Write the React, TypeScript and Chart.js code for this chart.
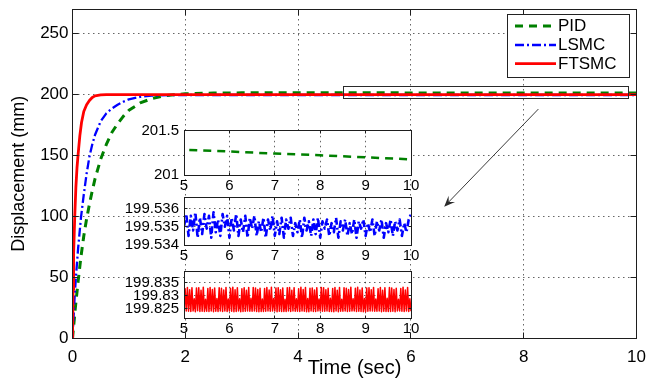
import React, { useEffect, useRef } from "react";
import { Chart, registerables } from "chart.js";

Chart.register(...registerables);

const FONT = "'Liberation Sans', Arial, Helvetica, sans-serif";
const INK = "#000000";
const FRAME = "#1e1e1e";
const GRID = "rgba(0,0,0,0.6)";

// ---------------- data ----------------
const seriesLabels = ["PID", "LSMC", "FTSMC"];
const seriesColors = ["#008000", "#0000ff", "#ff0000"];

const pidTime = [0, 0.05, 0.1, 0.15, 0.2, 0.25, 0.3, 0.35, 0.4, 0.45, 0.5, 0.6, 0.7, 0.8, 0.9, 1.0, 1.2, 1.4, 1.6, 1.8, 2.0, 2.5, 3, 3.5, 4, 4.5, 5, 6, 7, 8, 9, 10];
const pidDisp = [0, 25, 47, 67, 84, 98, 110, 121, 131, 139, 147, 159, 169, 176, 182, 187, 193, 196.5, 198.6, 199.8, 200.5, 201.1, 201.3, 201.33, 201.32, 201.3, 201.287, 201.267, 201.244, 201.225, 201.202, 201.179];

const lsmcRiseTime = [0, 0.02, 0.04, 0.06, 0.1, 0.15, 0.2, 0.25, 0.3, 0.35, 0.4, 0.5, 0.6, 0.7, 0.8, 0.9, 1.0, 1.2, 1.4, 1.7, 2.0, 2.5, 3, 4];
const lsmcRiseDisp = [0, 18, 36, 50, 74, 99, 118, 135, 149, 159, 167, 178, 184.5, 188.5, 191.5, 194, 196, 198, 199, 199.45, 199.52, 199.534, 199.535, 199.535];

const ftsmcRiseTime = [0, 0.01, 0.02, 0.04, 0.06, 0.08, 0.1, 0.13, 0.16, 0.2, 0.25, 0.3, 0.35, 0.4, 0.5, 0.6, 0.8, 1, 2, 3, 4];
const ftsmcRiseDisp = [0, 40, 70, 100, 124, 140, 151, 166, 177, 186, 191.5, 195, 197.5, 198.8, 199.6, 199.8, 199.826, 199.828, 199.828, 199.828, 199.828];

// steady-state samples from t = 5 s to t = 10 s
const steadyStart = 5;
const lsmcStep = 0.05;
const lsmcSteadyDisp = [
  199.5350, 199.5357, 199.5345, 199.5356, 199.5348, 199.5358, 199.5344, 199.5355, 199.5346, 199.5357,
  199.5349, 199.5356, 199.5344, 199.5358, 199.5347, 199.5354, 199.5345, 199.5357, 199.5350, 199.5356,
  199.5344, 199.5355, 199.5348, 199.5357, 199.5345, 199.5354, 199.5347, 199.5356, 199.5344, 199.5355,
  199.5349, 199.5356, 199.5345, 199.5353, 199.5347, 199.5355, 199.5344, 199.5354, 199.5348, 199.5356,
  199.5345, 199.5353, 199.5346, 199.5355, 199.5344, 199.5354, 199.5349, 199.5355, 199.5345, 199.5352,
  199.5347, 199.5354, 199.5344, 199.5355, 199.5348, 199.5353, 199.5345, 199.5354, 199.5346, 199.5355,
  199.5344, 199.5353, 199.5349, 199.5354, 199.5345, 199.5352, 199.5347, 199.5355, 199.5344, 199.5353,
  199.5348, 199.5354, 199.5345, 199.5352, 199.5346, 199.5354, 199.5344, 199.5353, 199.5349, 199.5354,
  199.5345, 199.5352, 199.5347, 199.5354, 199.5345, 199.5353, 199.5348, 199.5354, 199.5344, 199.5352,
  199.5347, 199.5354, 199.5345, 199.5353, 199.5348, 199.5354, 199.5345, 199.5352, 199.5347, 199.5354,
  199.5357,
];

const ftsmcStep = 0.025;
const ftsmcSteadyDisp = [
  199.8238, 199.8326, 199.8240, 199.8331, 199.8239, 199.8322, 199.8238, 199.8330, 199.8240, 199.8287,
  199.8237, 199.8329, 199.8241, 199.8330, 199.8238, 199.8320, 199.8239, 199.8332, 199.8238, 199.8285,
  199.8239, 199.8327, 199.8238, 199.8331, 199.8240, 199.8323, 199.8237, 199.8329, 199.8239, 199.8288,
  199.8238, 199.8330, 199.8240, 199.8328, 199.8238, 199.8321, 199.8240, 199.8331, 199.8238, 199.8286,
  199.8240, 199.8328, 199.8239, 199.8332, 199.8237, 199.8322, 199.8238, 199.8330, 199.8240, 199.8287,
  199.8237, 199.8326, 199.8238, 199.8330, 199.8239, 199.8320, 199.8240, 199.8331, 199.8239, 199.8289,
  199.8239, 199.8331, 199.8240, 199.8329, 199.8238, 199.8323, 199.8237, 199.8328, 199.8238, 199.8286,
  199.8238, 199.8327, 199.8239, 199.8331, 199.8240, 199.8321, 199.8239, 199.8332, 199.8240, 199.8288,
  199.8240, 199.8329, 199.8237, 199.8330, 199.8239, 199.8322, 199.8238, 199.8329, 199.8238, 199.8285,
  199.8238, 199.8330, 199.8240, 199.8331, 199.8238, 199.8320, 199.8240, 199.8330, 199.8239, 199.8287,
  199.8239, 199.8326, 199.8238, 199.8332, 199.8240, 199.8323, 199.8239, 199.8331, 199.8237, 199.8288,
  199.8237, 199.8328, 199.8240, 199.8329, 199.8238, 199.8321, 199.8238, 199.8330, 199.8240, 199.8286,
  199.8240, 199.8331, 199.8239, 199.8330, 199.8239, 199.8322, 199.8240, 199.8328, 199.8238, 199.8289,
  199.8238, 199.8327, 199.8237, 199.8331, 199.8240, 199.8320, 199.8237, 199.8331, 199.8239, 199.8285,
  199.8239, 199.8330, 199.8240, 199.8328, 199.8238, 199.8323, 199.8239, 199.8332, 199.8240, 199.8287,
  199.8240, 199.8328, 199.8238, 199.8332, 199.8239, 199.8321, 199.8238, 199.8329, 199.8237, 199.8288,
  199.8237, 199.8329, 199.8239, 199.8330, 199.8240, 199.8322, 199.8240, 199.8331, 199.8239, 199.8286,
  199.8239, 199.8326, 199.8240, 199.8331, 199.8237, 199.8320, 199.8239, 199.8330, 199.8238, 199.8289,
  199.8238, 199.8331, 199.8238, 199.8329, 199.8239, 199.8323, 199.8237, 199.8328, 199.8240, 199.8285,
  199.8240, 199.8327, 199.8239, 199.8332, 199.8238, 199.8321, 199.8240, 199.8331, 199.8238, 199.8287,
  199.8239,
];

// axes / ticks
const mainXTicks = [0, 2, 4, 6, 8, 10];
const mainYTicks = [0, 50, 100, 150, 200, 250];
const mainYRange = [0, 270];
const insetXRange = [5, 10];
const insetXTicks = [5, 6, 7, 8, 9, 10];
const pidInsetRange = [201, 201.5];
const pidInsetTicks = [201, 201.5];
const lsmcInsetRange = [199.534, 199.5366];
const lsmcInsetTicks = [199.534, 199.535, 199.536];
const ftsmcInsetRange = [199.8212, 199.8391];
const ftsmcInsetTicks = [199.825, 199.83, 199.835];

// zoom marker (data coordinates of the main axes)
const zoomBoxT = [4.8, 9.85];
const zoomBoxY = [197.3, 207.1];
const arrowFrom = [8.26, 188];
const arrowTo = [6.59, 108];

// ---------------- helpers ----------------
const pairs = (ts: number[], ys: number[]) => ts.map((t, i) => ({ x: t, y: ys[i] }));
const sampled = (t0: number, dt: number, ys: number[]) =>
  ys.map((y, i) => ({ x: Math.round((t0 + i * dt) * 10000) / 10000, y }));

const seriesPoints = [
  pairs(pidTime, pidDisp),
  [...pairs(lsmcRiseTime, lsmcRiseDisp), ...sampled(steadyStart, lsmcStep, lsmcSteadyDisp)],
  [...pairs(ftsmcRiseTime, ftsmcRiseDisp), ...sampled(steadyStart, ftsmcStep, ftsmcSteadyDisp)],
];

const mainStyles = [
  { borderDash: [8, 6], borderWidth: 3 },
  { borderDash: [9, 3, 2, 3], borderWidth: 2.3 },
  { borderDash: [], borderWidth: 2.8 },
];
const insetStyles = [
  { borderDash: [8, 6], borderWidth: 2.5 },
  { borderDash: [7, 3, 2, 3], borderWidth: 2.6 },
  { borderDash: [], borderWidth: 1.5 },
];

const crisp = (v: number) => Math.round(v) + 0.5;

function drawFrameAndTicks(chart: any, tickLen: number) {
  const { ctx, chartArea: a, scales } = chart;
  const L = crisp(a.left - 0.5), R = crisp(a.right - 0.5), T = crisp(a.top - 0.5), B = crisp(a.bottom - 0.5);
  ctx.save();
  ctx.setLineDash([]);
  ctx.strokeStyle = FRAME;
  ctx.lineWidth = 1;
  ctx.strokeRect(L, T, R - L, B - T);
  ctx.beginPath();
  for (const t of scales.x.ticks) {
    const px = crisp(scales.x.getPixelForValue(t.value) - 0.5);
    ctx.moveTo(px, B); ctx.lineTo(px, B - tickLen);
    ctx.moveTo(px, T); ctx.lineTo(px, T + tickLen);
  }
  for (const t of scales.y.ticks) {
    const py = crisp(scales.y.getPixelForValue(t.value) - 0.5);
    ctx.moveTo(L, py); ctx.lineTo(L + tickLen, py);
    ctx.moveTo(R, py); ctx.lineTo(R - tickLen, py);
  }
  ctx.stroke();
  ctx.restore();
}

const mainDecor = {
  id: "mainDecor",
  afterDraw(chart: any) {
    drawFrameAndTicks(chart, 6);
    const { ctx, scales } = chart;
    const x = scales.x, y = scales.y;
    ctx.save();
    // zoom rectangle
    ctx.strokeStyle = "#2a2a2a";
    ctx.lineWidth = 1;
    ctx.setLineDash([]);
    const bx0 = crisp(x.getPixelForValue(zoomBoxT[0]));
    const bx1 = crisp(x.getPixelForValue(zoomBoxT[1]));
    const by0 = crisp(y.getPixelForValue(zoomBoxY[1]));
    const by1 = crisp(y.getPixelForValue(zoomBoxY[0]));
    ctx.strokeRect(bx0, by0, bx1 - bx0, by1 - by0);
    // arrow
    const ax0 = x.getPixelForValue(arrowFrom[0]), ay0 = y.getPixelForValue(arrowFrom[1]);
    const ax1 = x.getPixelForValue(arrowTo[0]), ay1 = y.getPixelForValue(arrowTo[1]);
    const ang = Math.atan2(ay1 - ay0, ax1 - ax0);
    ctx.strokeStyle = "#3a3a3a";
    ctx.beginPath();
    ctx.moveTo(ax0, ay0);
    ctx.lineTo(ax1 - 6 * Math.cos(ang), ay1 - 6 * Math.sin(ang));
    ctx.stroke();
    const hl = 11, hw = 4.5;
    const bxp = ax1 - hl * Math.cos(ang), byp = ay1 - hl * Math.sin(ang);
    ctx.fillStyle = "#2a2a2a";
    ctx.beginPath();
    ctx.moveTo(ax1, ay1);
    ctx.lineTo(bxp + hw * Math.sin(ang), byp - hw * Math.cos(ang));
    ctx.lineTo(ax1 - 0.6 * hl * Math.cos(ang), ay1 - 0.6 * hl * Math.sin(ang));
    ctx.lineTo(bxp - hw * Math.sin(ang), byp + hw * Math.cos(ang));
    ctx.closePath();
    ctx.fill();
    // legend
    const lg = { left: 507, top: 14, right: 629, bottom: 76.5 };
    const rows = [26, 45, 63.7];
    ctx.fillStyle = "#ffffff";
    ctx.fillRect(lg.left, lg.top, lg.right - lg.left, lg.bottom - lg.top);
    ctx.strokeStyle = "#222";
    ctx.lineWidth = 1;
    ctx.strokeRect(crisp(lg.left), crisp(lg.top), Math.round(lg.right - lg.left), Math.round(lg.bottom - lg.top));
    chart.data.datasets.forEach((ds: any, i: number) => {
      const ry = rows[i];
      ctx.strokeStyle = ds.borderColor;
      ctx.lineWidth = ds.borderWidth;
      ctx.setLineDash(ds.borderDash || []);
      ctx.beginPath();
      ctx.moveTo(515, ry);
      ctx.lineTo(556, ry);
      ctx.stroke();
      ctx.setLineDash([]);
      ctx.fillStyle = INK;
      ctx.font = `17px ${FONT}`;
      ctx.textBaseline = "middle";
      ctx.textAlign = "left";
      ctx.fillText(ds.label, 558, ry + 0.5);
    });
    ctx.restore();
  },
};

const insetDecor = {
  id: "insetDecor",
  beforeDraw(chart: any) {
    const { ctx, chartArea: a } = chart;
    ctx.save();
    ctx.fillStyle = "#ffffff";
    ctx.fillRect(a.left, a.top, a.right - a.left, a.bottom - a.top);
    ctx.restore();
  },
  afterDraw(chart: any) {
    drawFrameAndTicks(chart, 3);
  },
};

function mainConfig(): any {
  return {
    type: "line",
    data: {
      datasets: seriesLabels.map((label, i) => ({
        label,
        data: seriesPoints[i],
        borderColor: seriesColors[i],
        backgroundColor: seriesColors[i],
        borderWidth: mainStyles[i].borderWidth,
        borderDash: mainStyles[i].borderDash,
        borderJoinStyle: "round",
        pointRadius: 0,
        tension: 0,
        fill: false,
        order: 2 - i,
      })),
    },
    options: {
      responsive: false,
      animation: false,
      devicePixelRatio: 1,
      events: [],
      layout: { padding: { left: 0, right: 9.5, top: 9, bottom: 0 } },
      plugins: { legend: { display: false }, tooltip: { enabled: false } },
      scales: {
        x: {
          type: "linear",
          min: 0,
          max: 10,
          afterBuildTicks: (s: any) => { s.ticks = mainXTicks.map((value) => ({ value })); },
          afterFit: (s: any) => { s.height = 42.5; s.paddingLeft = 0; s.paddingRight = 0; },
          ticks: { color: INK, font: { family: FONT, size: 17 }, padding: 9, maxRotation: 0, autoSkip: false, callback: (v: any) => String(v) },
          grid: { color: GRID, lineWidth: 1, drawTicks: false },
          border: { display: false, dash: [1.5, 3.5] },
          title: { display: true, text: "Time (sec)", color: INK, font: { family: FONT, size: 20 }, padding: { top: 0, bottom: 1 } },
        },
        y: {
          type: "linear",
          min: mainYRange[0],
          max: mainYRange[1],
          afterBuildTicks: (s: any) => { s.ticks = mainYTicks.map((value) => ({ value })); },
          afterFit: (s: any) => { s.width = 72.5; s.paddingTop = 0; s.paddingBottom = 0; },
          ticks: { color: INK, font: { family: FONT, size: 17 }, padding: 4, autoSkip: false, callback: (v: any) => String(v) },
          grid: { color: GRID, lineWidth: 1, drawTicks: false },
          border: { display: false, dash: [1.5, 3.5] },
          title: { display: true, text: "Displacement (mm)", color: INK, font: { family: FONT, size: 18 }, padding: { top: 8, bottom: 0 } },
        },
      },
    },
    plugins: [mainDecor],
  };
}

function insetConfig(idx: number, yRange: number[], yTicks: number[], yWidth: number, topPad: number, xHeight: number, rightPad: number): any {
  return {
    type: "line",
    data: {
      datasets: [
        {
          label: seriesLabels[idx],
          data: seriesPoints[idx],
          borderColor: seriesColors[idx],
          backgroundColor: seriesColors[idx],
          borderWidth: insetStyles[idx].borderWidth,
          borderDash: insetStyles[idx].borderDash,
          borderJoinStyle: "round",
          pointRadius: 0,
          tension: 0,
          fill: false,
          clip: 0,
        },
      ],
    },
    options: {
      responsive: false,
      animation: false,
      devicePixelRatio: 1,
      events: [],
      layout: { padding: { left: 0, right: rightPad, top: topPad, bottom: 0 } },
      plugins: { legend: { display: false }, tooltip: { enabled: false } },
      scales: {
        x: {
          type: "linear",
          min: insetXRange[0],
          max: insetXRange[1],
          afterBuildTicks: (s: any) => { s.ticks = insetXTicks.map((value) => ({ value })); },
          afterFit: (s: any) => { s.height = xHeight; s.paddingLeft = 0; s.paddingRight = 0; },
          ticks: { color: INK, font: { family: FONT, size: 15 }, padding: 2, maxRotation: 0, autoSkip: false, callback: (v: any) => String(v) },
          grid: { color: GRID, lineWidth: 1, drawTicks: false },
          border: { display: false, dash: [1.5, 3.5] },
        },
        y: {
          type: "linear",
          min: yRange[0],
          max: yRange[1],
          afterBuildTicks: (s: any) => { s.ticks = yTicks.map((value) => ({ value })); },
          afterFit: (s: any) => { s.width = yWidth; s.paddingTop = 0; s.paddingBottom = 0; },
          ticks: { color: INK, font: { family: FONT, size: 15 }, padding: 5, autoSkip: false, callback: (v: any) => String(v) },
          grid: { color: GRID, lineWidth: 1, drawTicks: false },
          border: { display: false, dash: [1.5, 3.5] },
        },
      },
    },
    plugins: [insetDecor],
  };
}

// inset canvases: left 90, width 340 -> plot box from x=184 to x=411
const INSET_LEFT = 90;
const INSET_W = 340;
const INSET_H = 80;

export default function App() {
  const mainRef = useRef<HTMLCanvasElement>(null);
  const pidRef = useRef<HTMLCanvasElement>(null);
  const lsmcRef = useRef<HTMLCanvasElement>(null);
  const ftsmcRef = useRef<HTMLCanvasElement>(null);

  useEffect(() => {
    const charts: Chart[] = [];
    charts.push(new Chart(mainRef.current as HTMLCanvasElement, mainConfig()));
    charts.push(new Chart(pidRef.current as HTMLCanvasElement, insetConfig(0, pidInsetRange, pidInsetTicks, 94, 10.8, 24.7, 19)));
    charts.push(new Chart(lsmcRef.current as HTMLCanvasElement, insetConfig(1, lsmcInsetRange, lsmcInsetTicks, 94, 9.7, 23, 19)));
    charts.push(new Chart(ftsmcRef.current as HTMLCanvasElement, insetConfig(2, ftsmcInsetRange, ftsmcInsetTicks, 94, 9.8, 23.7, 19)));
    return () => charts.forEach((c) => c.destroy());
  }, []);

  const abs = (left: number, top: number): React.CSSProperties => ({ position: "absolute", left, top });

  return (
    <div style={{ position: "absolute", left: 0, top: 0, width: 646, height: 381, background: "#ffffff", overflow: "hidden" }}>
      <canvas ref={mainRef} width={646} height={381} style={abs(0, 0)} />
      <canvas ref={pidRef} width={INSET_W} height={INSET_H} style={abs(INSET_LEFT, 120)} />
      <canvas ref={lsmcRef} width={INSET_W} height={INSET_H} style={abs(INSET_LEFT, 188)} />
      <canvas ref={ftsmcRef} width={INSET_W} height={INSET_H} style={abs(INSET_LEFT, 262)} />
    </div>
  );
}
